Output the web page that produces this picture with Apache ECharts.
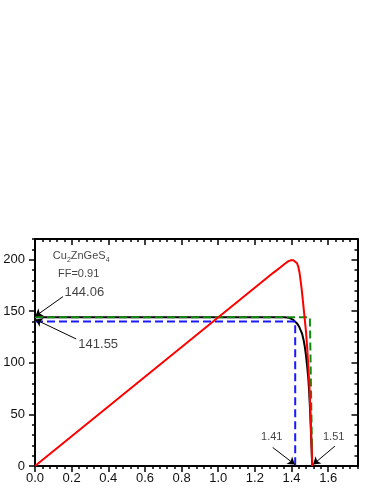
<!DOCTYPE html>
<html><head><meta charset="utf-8">
<script src="https://cdn.jsdelivr.net/npm/echarts@6/dist/echarts.min.js"></script>
<style>html,body{margin:0;padding:0;background:#fff}#c{width:380px;height:492px}</style>
</head><body><div id="c"></div>
<script>
// ---- data ----
const xTicks = [0, 0.2, 0.4, 0.6, 0.8, 1.0, 1.2, 1.4, 1.6];
const yTicks = [0, 50, 100, 150, 200];

const blackV = [0, 1.36, 1.375, 1.39, 1.40, 1.41, 1.42, 1.43, 1.44, 1.45, 1.458, 1.466, 1.473, 1.479, 1.485, 1.491, 1.496, 1.503, 1.509, 1.513];
const blackJ = [144.06, 144.06, 144.0, 143.4, 142.6, 141.6, 140.2, 138.2, 135.5, 131.5, 128, 122, 115, 107, 97, 86, 73, 47, 20, 0];

const redV = [0, 1.30, 1.34, 1.36, 1.38, 1.395, 1.41, 1.42, 1.43, 1.437, 1.444, 1.45, 1.455, 1.462, 1.470, 1.478, 1.485, 1.491, 1.498, 1.505, 1.513];
const redP = [0, 187.2, 192.6, 195.5, 198.2, 199.3, 199.5, 198.8, 196.5, 193, 187, 179, 172, 160, 146, 132, 116, 98, 76, 42, 0];

const greenV = [0, 1.50, 1.513];
const greenJ = [144.06, 144.06, 0];

const blueV = [0, 1.42, 1.42];
const blueJ = [140, 140, 0];

const zip = (a, b) => a.map((v, i) => [v, b[i]]);

const FONT = '"Liberation Sans", Arial, Helvetica, sans-serif';

const chart = echarts.init(document.getElementById('c'), null, {renderer: 'canvas'});

const frame = {show: true, onZero: false, lineStyle: {color: '#000', width: 2}};
const noLine = {show: false, onZero: false};

function xAx(pos, major, inside) {
  const a = {
    type: 'value', position: pos, min: 0, max: 1.76, splitLine: {show: false},
    axisLine: major ? frame : noLine,
    axisLabel: {show: false},
  };
  if (major) {
    a.interval = 0.2;
    a.axisTick = {show: true, inside: inside, length: 6, customValues: xTicks, lineStyle: {color: '#000', width: 1.5}};
  } else {
    a.interval = 0.04;
    a.axisTick = {show: true, inside: inside, length: 3, lineStyle: {color: '#000', width: 1.5}};
  }
  return a;
}
function yAx(pos, major, inside) {
  const a = {
    type: 'value', position: pos, min: 0, max: 220, splitLine: {show: false},
    axisLine: major ? frame : noLine,
    axisLabel: {show: false},
  };
  if (major) {
    a.interval = 50;
    a.axisTick = {show: true, inside: inside, length: 6, customValues: yTicks, lineStyle: {color: '#000', width: 1.5}};
  } else {
    a.interval = 10;
    a.axisTick = {show: true, inside: inside, length: 3, lineStyle: {color: '#000', width: 1.5}};
  }
  return a;
}

const xMain = xAx('bottom', true, false);
xMain.axisLabel = {show: true, customValues: xTicks, margin: 6, fontSize: 13, color: '#111', fontFamily: FONT,
  formatter: v => v.toFixed(1)};
const yMain = yAx('left', true, false);
yMain.axisLabel = {show: true, customValues: yTicks, margin: 10, fontSize: 13, color: '#111', fontFamily: FONT};

const notes = [
  {value: [0.252, 203.5], text: 'Cu{s|2}ZnGeS{s|4}', size: 11},
  {value: [0.238, 185.8], text: 'FF=0.91', size: 11},
  {value: [0.269, 168.1], text: '144.06', size: 13},
  {value: [0.345, 118.3], text: '141.55', size: 13},
  {value: [1.292, 27.7], text: '1.41', size: 11},
  {value: [1.630, 27.7], text: '1.51', size: 11}
];
const arrows = [
  [[0.153, 164.2], [0.002, 145.2]],
  [[0.225, 123.1], [0.002, 142.0]],
  [[1.297, 18.0], [1.418, 1.5]],
  [[1.637, 19.3], [1.518, 1.5]]
];

const lineBase = {type: 'line', showSymbol: false, symbol: 'none', xAxisIndex: 0, yAxisIndex: 0, silent: true};

chart.setOption({
  animation: false,
  backgroundColor: '#fff',
  grid: {left: 35, top: 239, right: 22.5, bottom: 26, containLabel: false, outerBoundsMode: 'none'},
  xAxis: [xMain, xAx('bottom', false, false), xAx('top', true, true), xAx('top', false, true)],
  yAxis: [yMain, yAx('left', false, false), yAx('right', true, true), yAx('right', false, true)],
  series: [
    Object.assign({}, lineBase, {name: 'J', data: zip(blackV, blackJ),
      lineStyle: {color: '#000', width: 2, join: 'round'}, z: 2}),
    Object.assign({}, lineBase, {name: 'ideal', data: zip(greenV, greenJ),
      lineStyle: {color: '#118a11', width: 2, type: [8, 4]}, z: 3}),
    Object.assign({}, lineBase, {name: 'max', data: zip(blueV, blueJ),
      lineStyle: {color: '#1a1aff', width: 2, type: [8, 4]}, z: 4}),
    Object.assign({}, lineBase, {name: 'P', data: zip(redV, redP),
      lineStyle: {color: '#ff0000', width: 2, join: 'round'}, z: 5}),
    {
      type: 'scatter', xAxisIndex: 0, yAxisIndex: 0, silent: true, symbolSize: 0, z: 10,
      data: notes.map(n => ({
        value: n.value,
        label: {
          show: true, position: 'inside', formatter: n.text, fontSize: n.size, color: '#111', fontFamily: FONT,
          rich: {s: {fontSize: 7, color: '#111', fontFamily: FONT, padding: [8, 0, 0, 0]}}
        }
      })),
      markLine: {
        silent: true, animation: false, symbol: ['none', 'arrow'], symbolSize: 7,
        label: {show: false},
        lineStyle: {color: '#000', width: 1, type: 'solid'},
        emphasis: {disabled: true},
        data: arrows.map(a => [{coord: a[0]}, {coord: a[1]}])
      }
    }
  ]
});
</script>
</body></html>
